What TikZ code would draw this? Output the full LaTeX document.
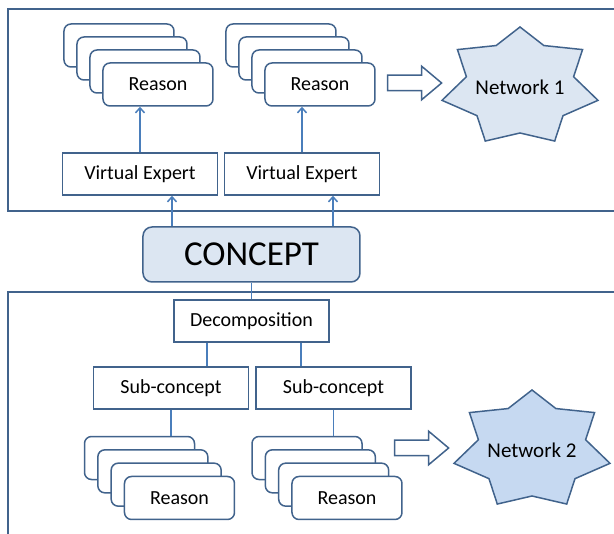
\documentclass[tikz,border=0pt]{standalone}
\usepackage{fontspec}
\setmainfont{Carlito}
\usepackage{tikz}
\usetikzlibrary{arrows.meta}
\usetikzlibrary{shapes.arrows}

\definecolor{bdr}{HTML}{41638C}
\definecolor{conn}{HTML}{4A7EBB}
\definecolor{paleA}{HTML}{DCE6F2}
\definecolor{paleB}{HTML}{C6D9F1}

\begin{document}
\begin{tikzpicture}
    \tikzset{
      box/.style={draw=bdr, rectangle, line width=1.5pt, fill=white, minimum width=155pt, minimum height=42pt, font=\fontsize{20}{24}\selectfont},
      card/.style={draw=bdr, rectangle, rounded corners=7pt, line width=1.5pt, fill=white, minimum width=110pt, minimum height=43pt, font=\fontsize{20}{24}\selectfont},
      core/.style={draw=bdr, rectangle, rounded corners=9pt, line width=1.5pt, fill=paleA, minimum width=217pt, minimum height=55pt, font=\fontsize{35}{40}\selectfont},
      hollow/.style={draw=bdr, single arrow, line width=1.5pt, fill=white, minimum height=54pt, inner sep=0pt, text height=7pt, text depth=7pt, single arrow head extend=9pt, single arrow tip angle=80},
      netstar/.style={draw=bdr, line width=1.5pt, line join=miter},
      net/.style={font=\fontsize{21}{25}\selectfont},
      frame/.style={draw=bdr, line width=2pt},
      line/.style={draw=conn, line width=1.5pt, -{Straight Barb[length=5pt,width=9pt]}},
      link/.style={draw=conn, line width=1.5pt}
    }
    \useasboundingbox (-251.5pt,-279.5pt) rectangle (362.5pt,254.5pt);
    \draw [frame] (-243.5pt,245.5pt) rectangle (378.5pt,43.5pt);
    \draw [frame] (-243.5pt,-37.5pt) rectangle (378.5pt,-310pt);

    \node [core] (concept) {CONCEPT};
    \node [box, node distance=80.5pt, above of=concept, xshift=-111.5pt] (ve1) {Virtual Expert};
    \node [box, node distance=162pt, right of=ve1] (ve2) {Virtual Expert};
    \node [box, node distance=66.5pt, below of=concept] (dec) {Decomposition};
    \node [box, node distance=67pt, below of=dec, xshift=-80.5pt] (sub1) {Sub-concept};
    \node [box, node distance=162.5pt, right of=sub1] (sub2) {Sub-concept};

    % reason stacks
    \foreach \s/\v in {1/ve1,2/ve2}{
      \foreach \k in {3,2,1,0}{
        \node [card, node distance=89.5pt, above of=\v, xshift={18pt-13pt*\k}, yshift={13pt*\k}] (r\s-\k) {\ifnum\k=0 Reason\fi};
      }
    }
    \foreach \s/\v/\d in {1/sub1/8.5,2/sub2/13.5}{
      \foreach \k in {3,2,1,0}{
        \node [card, node distance=110pt, below of=\v, xshift={\d pt-13.33pt*\k}, yshift={13.33pt*\k}] (b\s-\k) {\ifnum\k=0 Reason\fi};
      }
    }

    % networks
    \node [hollow, node distance=90pt, right of=r2-0, yshift=1.5pt] (arr1) {};
    \coordinate [node distance=110pt, right of=arr1, yshift=-4pt] (n1);
    \filldraw [netstar, fill=paleA, shift={(n1)}] (90:80pt and 60pt)
      \foreach \i in {0,...,6}{ -- ({90+\i*360/7+360/14}:55pt and 46pt) -- ({90+(\i+1)*360/7}:80pt and 60pt)} -- cycle;
    \node [net] at (n1) (net1) {Network 1};

    \node [hollow, node distance=70pt, right of=b2-0, yshift=50pt] (arr2) {};
    \coordinate [node distance=115pt, right of=arr2, yshift=-2pt] (n2);
    \filldraw [netstar, fill=paleB, shift={(n2)}] (90:80pt and 60pt)
      \foreach \i in {0,...,6}{ -- ({90+\i*360/7+360/14}:55pt and 46pt) -- ({90+(\i+1)*360/7}:80pt and 60pt)} -- cycle;
    \node [net] at (n2) (net2) {Network 2};

    \path [line] ([xshift=-79.5pt]concept.north) -- ([xshift=-79.5pt]concept.north |- ve1.south);
    \path [line] ([xshift=81.5pt]concept.north) -- ([xshift=81.5pt]concept.north |- ve2.south);
    \path [line] (ve1.north) -- (ve1.north |- r1-0.south);
    \path [line] (ve2.north) -- (ve2.north |- r2-0.south);
    \path [link] (concept.south) -- (dec.north);
    \path [link] ([xshift=-44.5pt]dec.south) -- ([xshift=-44.5pt]dec.south |- sub1.north);
    \path [link] ([xshift=49.5pt]dec.south) -- ([xshift=49.5pt]dec.south |- sub2.north);
    \path [link] (sub1.south) -- (sub1.south |- b1-3.north);
    \path [link] (sub2.south) -- (sub2.south |- b2-3.north);
\end{tikzpicture}
\end{document}
